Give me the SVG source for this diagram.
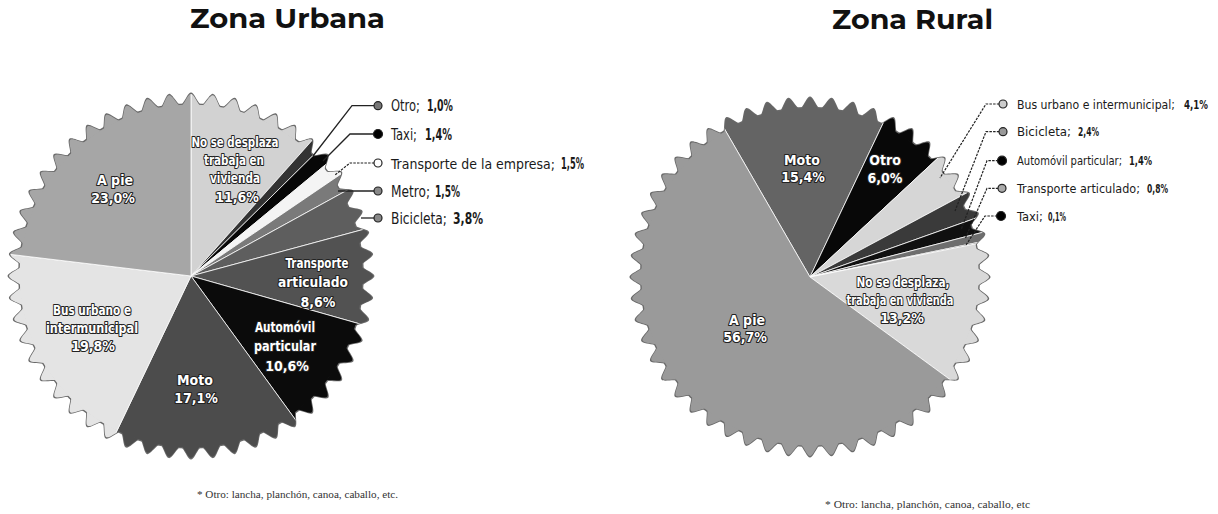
<svg xmlns="http://www.w3.org/2000/svg" width="1218" height="514" viewBox="0 0 1218 514">
<style>
.title{font-family:"Montserrat","Open Sans","Liberation Sans",sans-serif;font-weight:700;font-size:28px;fill:#111;text-anchor:middle}
.leg{font-family:"DejaVu Sans Condensed","Liberation Sans Narrow","Roboto",sans-serif;font-stretch:condensed;font-size:15px;fill:#1a1a1a}
.legs{font-size:13.5px}
.legr{font-size:11.5px}
.legv{font-size:13px}
.v{font-weight:700}
.lab{font-family:"DejaVu Sans Condensed","Liberation Sans Narrow","Roboto",sans-serif;font-stretch:condensed;font-weight:700;font-size:14px;fill:#fff;stroke:#222;stroke-width:2.2px;paint-order:stroke;stroke-linejoin:round;text-anchor:middle}
.note{font-family:"Liberation Serif",serif;font-size:10px;fill:#333}
.lead{fill:none;stroke:#222;stroke-width:1.3}
.dash{stroke-dasharray:2.5 1.2;stroke-width:1.2}
.dot{stroke:#222;stroke-width:1.2}
.sl{stroke:#fff;stroke-width:0.8}
</style>
<defs>
<path id="tooth" d="M-8.8,-170.6 C-5.5,-174.5 -2.8,-182 0,-182 C2.8,-182 5.5,-174.5 8.8,-170.6 Z"/>
<g id="t4">
<use href="#tooth"/>
<use href="#tooth" transform="rotate(6.923)"/>
<use href="#tooth" transform="rotate(13.846)"/>
<use href="#tooth" transform="rotate(20.769)"/>
</g>
<g id="seal">
<circle r="171.5"/>
<use href="#t4"/>
<use href="#t4" transform="rotate(27.692)"/>
<use href="#t4" transform="rotate(55.385)"/>
<use href="#t4" transform="rotate(83.077)"/>
<use href="#t4" transform="rotate(110.769)"/>
<use href="#t4" transform="rotate(138.462)"/>
<use href="#t4" transform="rotate(166.154)"/>
<use href="#t4" transform="rotate(193.846)"/>
<use href="#t4" transform="rotate(221.538)"/>
<use href="#t4" transform="rotate(249.231)"/>
<use href="#t4" transform="rotate(276.923)"/>
<use href="#t4" transform="rotate(304.615)"/>
<use href="#t4" transform="rotate(332.308)"/>
</g>
<mask id="mL" maskUnits="userSpaceOnUse" x="0" y="80" width="400" height="400">
<use href="#seal" fill="#fff" transform="translate(191,276)"/>
</mask>
<mask id="mR" maskUnits="userSpaceOnUse" x="610" y="80" width="400" height="400">
<use href="#seal" fill="#fff" transform="translate(810,277) scale(0.984)"/>
</mask>
</defs>
<rect width="1218" height="514" fill="#fff"/>

<g id="titles">
<text class="title" x="287.5" y="28" textLength="195" lengthAdjust="spacingAndGlyphs">Zona Urbana</text>
<text class="title" x="912.5" y="29" textLength="161" lengthAdjust="spacingAndGlyphs">Zona Rural</text>
</g>

<g id="pie-urbana">
<use href="#seal" fill="#6a6a6a" transform="translate(191,276) scale(1.008)"/>
<g mask="url(#mL)" class="sl">
<path id="u-nose" d="M191,276 L191,86 A190,190 0 0 1 317.56,134.28 Z" fill="#d2d2d2"/>
<path id="u-otro" d="M191,276 L317.56,134.28 A190,190 0 0 1 326.2,142.51 Z" fill="#333"/>
<path id="u-taxi" d="M191,276 L326.2,142.51 A190,190 0 0 1 337.4,154.9 Z" fill="#080808"/>
<path id="u-empresa" d="M191,276 L337.4,154.9 A190,190 0 0 1 348.1,169.2 Z" fill="#f4f4f4"/>
<path id="u-metro" d="M191,276 L348.1,169.2 A190,190 0 0 1 357.5,184.5 Z" fill="#7a7a7a"/>
<path id="u-bici" d="M191,276 L357.5,184.5 A190,190 0 0 1 374.4,226.4 Z" fill="#5e5e5e"/>
<path id="u-ta" d="M191,276 L374.4,226.4 A190,190 0 0 1 373.8,327.9 Z" fill="#525252"/>
<path id="u-auto" d="M191,276 L373.8,327.9 A190,190 0 0 1 302.7,429.7 Z" fill="#0b0b0b"/>
<path id="u-moto" d="M191,276 L302.7,429.7 A190,190 0 0 1 109,447.4 Z" fill="#4c4c4c"/>
<path id="u-bus" d="M191,276 L109,447.4 A190,190 0 0 1 2.3,253.4 Z" fill="#e4e4e4"/>
<path id="u-pie" d="M191,276 L2.3,253.4 A190,190 0 0 1 191,86 Z" fill="#a6a6a6"/>
</g>
<text class="lab" x="235" y="147" textLength="87" lengthAdjust="spacingAndGlyphs">No se desplaza</text>
<text class="lab" x="234" y="165" textLength="60" lengthAdjust="spacingAndGlyphs">trabaja en</text>
<text class="lab" x="235" y="183" textLength="50" lengthAdjust="spacingAndGlyphs">vivienda</text>
<text class="lab" x="237" y="202">11,6%</text>
<text class="lab" x="115" y="185">A pie</text>
<text class="lab" x="113" y="203">23,0%</text>
<text class="lab" x="92" y="315" textLength="78" lengthAdjust="spacingAndGlyphs">Bus urbano e</text>
<text class="lab" x="92" y="333" textLength="92" lengthAdjust="spacingAndGlyphs">intermunicipal</text>
<text class="lab" x="93" y="351">19,8%</text>
<text class="lab" x="317" y="268" textLength="63" lengthAdjust="spacingAndGlyphs">Transporte</text>
<text class="lab" x="313" y="287" textLength="70" lengthAdjust="spacingAndGlyphs">articulado</text>
<text class="lab" x="318" y="307">8,6%</text>
<text class="lab" x="285" y="332" textLength="60" lengthAdjust="spacingAndGlyphs">Automóvil</text>
<text class="lab" x="285" y="351" textLength="62" lengthAdjust="spacingAndGlyphs">particular</text>
<text class="lab" x="287" y="371">10,6%</text>
<text class="lab" x="195" y="385">Moto</text>
<text class="lab" x="196" y="403">17,1%</text>
</g>

<g id="pie-rural">
<use href="#seal" fill="#6a6a6a" transform="translate(810,277) scale(0.992)"/>
<g mask="url(#mR)" class="sl">
<path id="r-moto" d="M810,277 L715,112.5 A190,190 0 0 1 891.6,105.4 Z" fill="#646464"/>
<path id="r-otro" d="M810,277 L891.6,105.4 A190,190 0 0 1 949.1,147.6 Z" fill="#080808"/>
<path id="r-bus" d="M810,277 L949.1,147.6 A190,190 0 0 1 977.4,187.2 Z" fill="#d6d6d6"/>
<path id="r-bici" d="M810,277 L977.4,187.2 A190,190 0 0 1 989,213.4 Z" fill="#3a3a3a"/>
<path id="r-auto" d="M810,277 L989,213.4 A190,190 0 0 1 993.9,229.4 Z" fill="#101010"/>
<path id="r-ta" d="M810,277 L993.9,229.4 A190,190 0 0 1 996.1,238.7 Z" fill="#6e6e6e"/>
<path id="r-taxi" d="M810,277 L996.1,238.7 A190,190 0 0 1 996.3,239.8 Z" fill="#000"/>
<path id="r-nose" d="M810,277 L996.3,239.8 A190,190 0 0 1 963.3,389.3 Z" fill="#d9d9d9"/>
<path id="r-pie" d="M810,277 L963.3,389.3 A190,190 0 1 1 715,112.5 Z" fill="#9a9a9a"/>
</g>
<text class="lab" x="802" y="165">Moto</text>
<text class="lab" x="803" y="182">15,4%</text>
<text class="lab" x="885" y="165">Otro</text>
<text class="lab" x="885" y="183">6,0%</text>
<text class="lab" x="903" y="287" textLength="93" lengthAdjust="spacingAndGlyphs">No se desplaza,</text>
<text class="lab" x="900" y="305" textLength="107" lengthAdjust="spacingAndGlyphs">trabaja en vivienda</text>
<text class="lab" x="902" y="323">13,2%</text>
<text class="lab" x="747" y="325">A pie</text>
<text class="lab" x="745" y="342">56,7%</text>
</g>

<g id="connectors">
<path class="lead" d="M378,105.7 H352 L313,156"/>
<path class="lead" d="M378,134 H350 L323,161"/>
<path class="lead dash" d="M378,163 H350 L335,175"/>
<path class="lead" d="M378,191 H338"/>
<path class="lead" d="M378,218 H361"/>
<path class="lead dash" d="M1003,104 H986 L940,178"/>
<path class="lead dash" d="M1003,131.7 H986 L955,211"/>
<path class="lead dash" d="M1002,160.7 H987 L961,230"/>
<path class="lead dash" d="M1002,188.3 H987 L965,239"/>
<path class="lead dash" d="M1001,216 H985 L966,245"/>
</g>

<g id="legend-urbana">
<circle class="dot" cx="378" cy="105.7" r="4" fill="#777"/>
<circle class="dot" cx="378" cy="134" r="4.5" fill="#000"/>
<circle class="dot" cx="378" cy="163" r="4" fill="#fff"/>
<circle class="dot" cx="378" cy="191" r="4" fill="#888"/>
<circle class="dot" cx="378" cy="218" r="4" fill="#888"/>
<text class="leg" x="391" y="111" textLength="29" lengthAdjust="spacingAndGlyphs">Otro;</text>
<text class="leg v" x="427" y="111" textLength="26" lengthAdjust="spacingAndGlyphs">1,0%</text>
<text class="leg" x="391" y="139.5" textLength="26" lengthAdjust="spacingAndGlyphs">Taxi;</text>
<text class="leg v" x="425" y="139.5" textLength="27" lengthAdjust="spacingAndGlyphs">1,4%</text>
<text class="leg legs" x="391" y="168.5" textLength="164" lengthAdjust="spacingAndGlyphs">Transporte de la empresa;</text>
<text class="leg v" x="561" y="168.5" textLength="23" lengthAdjust="spacingAndGlyphs">1,5%</text>
<text class="leg" x="391" y="196.5" textLength="39" lengthAdjust="spacingAndGlyphs">Metro;</text>
<text class="leg v" x="435" y="196.5" textLength="25" lengthAdjust="spacingAndGlyphs">1,5%</text>
<text class="leg" x="391" y="223.5" textLength="56" lengthAdjust="spacingAndGlyphs">Bicicleta;</text>
<text class="leg v" x="453" y="223.5" textLength="30" lengthAdjust="spacingAndGlyphs">3,8%</text>
</g>

<g id="legend-rural">
<circle class="dot" cx="1003" cy="104" r="4" fill="#ccc"/>
<circle class="dot" cx="1003" cy="131.7" r="4" fill="#999"/>
<circle class="dot" cx="1002" cy="160.7" r="4.5" fill="#000"/>
<circle class="dot" cx="1002" cy="188.3" r="4" fill="#aaa"/>
<circle class="dot" cx="1001" cy="216" r="4.5" fill="#000"/>
<text class="leg legr" x="1017" y="108.5" textLength="158" lengthAdjust="spacingAndGlyphs">Bus urbano e intermunicipal;</text>
<text class="leg legv v" x="1184" y="108.5" textLength="24" lengthAdjust="spacingAndGlyphs">4,1%</text>
<text class="leg legr" x="1017" y="136.2" textLength="54" lengthAdjust="spacingAndGlyphs">Bicicleta;</text>
<text class="leg legv v" x="1078" y="136.2" textLength="21" lengthAdjust="spacingAndGlyphs">2,4%</text>
<text class="leg legr" x="1017" y="165.2" textLength="105" lengthAdjust="spacingAndGlyphs">Automóvil particular;</text>
<text class="leg legv v" x="1129" y="165.2" textLength="23" lengthAdjust="spacingAndGlyphs">1,4%</text>
<text class="leg legr" x="1017" y="192.8" textLength="123" lengthAdjust="spacingAndGlyphs">Transporte articulado;</text>
<text class="leg legv v" x="1147" y="192.8" textLength="21" lengthAdjust="spacingAndGlyphs">0,8%</text>
<text class="leg legr" x="1017" y="220.5" textLength="26" lengthAdjust="spacingAndGlyphs">Taxi;</text>
<text class="leg legv v" x="1048" y="220.5" textLength="18" lengthAdjust="spacingAndGlyphs">0,1%</text>
</g>

<g id="notes">
<text class="note" x="197" y="498" textLength="201" lengthAdjust="spacingAndGlyphs">* Otro: lancha, planchón, canoa, caballo, etc.</text>
<text class="note" x="825" y="508" textLength="205" lengthAdjust="spacingAndGlyphs">* Otro: lancha, planchón, canoa, caballo, etc</text>
</g>
</svg>
